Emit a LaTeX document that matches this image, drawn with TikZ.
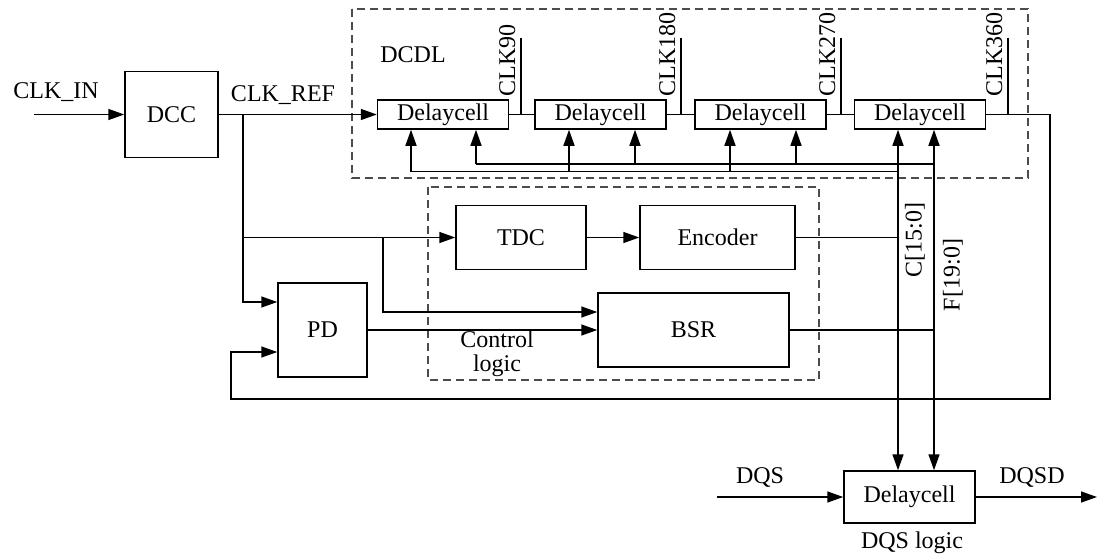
\documentclass[tikz,border=0pt]{standalone}
\usepackage{fontspec}
\setmainfont{Liberation Serif}
\usetikzlibrary{arrows.meta}

\begin{document}
\begin{tikzpicture}[x=0.5pt,y=-0.5pt,line width=0.75pt,font=\fontsize{12}{14}\selectfont,
  >={Triangle[length=8pt,width=5.5pt]},
  blk/.style={draw,inner sep=0pt,minimum width=#1},
  cell/.style={blk=65.5pt,minimum height=14.5pt},
  grp/.style={draw=black!70,dash pattern=on 4pt off 2.5pt},
  tap/.style={rotate=90,anchor=south west,inner sep=1pt}]
\useasboundingbox (0,0) rectangle (1097,557);
\draw[grp] (352,9) rectangle (1028,178);
\draw[grp] (428,187) rectangle (819,380);
\node (dcc) [blk=46.5pt,minimum height=43pt] at (171.5,114.5) {DCC};
\node (d1) [cell] at (443,114.5) {Delaycell};
\node (d2) [cell] at (600.5,114.5) {Delaycell};
\node (d3) [cell] at (760.5,114.5) {Delaycell};
\node (d4) [cell] at (920,114.5) {Delaycell};
\node (tdc) [blk=65pt,minimum height=32pt] at (521,237.5) {TDC};
\node (enc) [blk=77.5pt,minimum height=32pt] at (717.5,237.5) {Encoder};
\node (bsr) [blk=95.5pt,minimum height=37pt] at (693.5,330) {BSR};
\node (pd) [blk=44.5pt,minimum height=47pt] at (322.5,330) {PD};
\node (dqs) [cell,minimum height=26pt] at (909.5,497) {Delaycell};
\node (clkin) at (56,92) {CLK\_IN};
\node (clkref) at (283,95) {CLK\_REF};
\node (dcdl) at (413,55) {DCDL};
\node (ctrl) [align=center] at (497,354) {Control\\[-2pt]logic};
\node (dqsl) at (760,477) {DQS};
\node (dqsdl) at (1032,477) {DQSD};
\node (dqslogic) at (912,543) {DQS logic};
\node (cl) [rotate=90] at (915,240) {C[15:0]};
\node (fl) [rotate=90] at (953,275) {F[19:0]};
\foreach \x/\t in {521/90,681/180,841/270,1008/360}{
  \coordinate (t\t) at (\x,38);
  \draw (t\t) -- (t\t |- d1.east);
  \node (l\t) [tap] at (\x-3,99) {CLK\t};
}
\coordinate (in) at (34,114.5);
\coordinate (br) at (243,114.5);
\coordinate (br2) at (383,237.5);
\coordinate (fb) at (231,352);
\coordinate (ret) at (1050,399);
\coordinate (cx) at (898,237.5);
\coordinate (fx) at (934,330);
\coordinate (cb) at (411,171.5);
\coordinate (fbus) at (476,164);
\coordinate (dqsin) at (717,497);
\coordinate (dqsout) at (1097,497);
\draw[->] (in) -- (dcc.west);
\draw[->] (dcc.east) -- (d1.west);
\draw (d1.east) -- (d2.west);
\draw (d2.east) -- (d3.west);
\draw (d3.east) -- (d4.west);
\draw[->] (br) |- ([yshift=14pt]pd.west);
\draw[->] (br |- tdc.west) -- (tdc.west);
\draw[->] (br2) |- ([yshift=9pt]bsr.west);
\draw[->] (pd.east) -- (bsr.west);
\draw[->] (tdc.east) -- (enc.west);
\draw[->] (d4.east) -| (ret) -| (fb) -- (fb -| pd.west);
\draw (enc.east) -- (cx);
\draw (bsr.east) -- (fx);
\draw (cb) -- (cb -| cx);
\draw (fbus) -- (fbus -| fx);
\foreach \x in {411,569,730} \draw[->] (\x,171.5) -- (\x,0 |- d1.south);
\foreach \x in {476,635,796} \draw[->] (\x,164) -- (\x,0 |- d1.south);
\draw[<->] (cx |- d4.south) -- (cx |- dqs.north);
\draw[<->] (fx |- d4.south) -- (fx |- dqs.north);
\draw[->] (dqsin) -- (dqs.west);
\draw[->] (dqs.east) -- (dqsout);
\end{tikzpicture}
\end{document}
